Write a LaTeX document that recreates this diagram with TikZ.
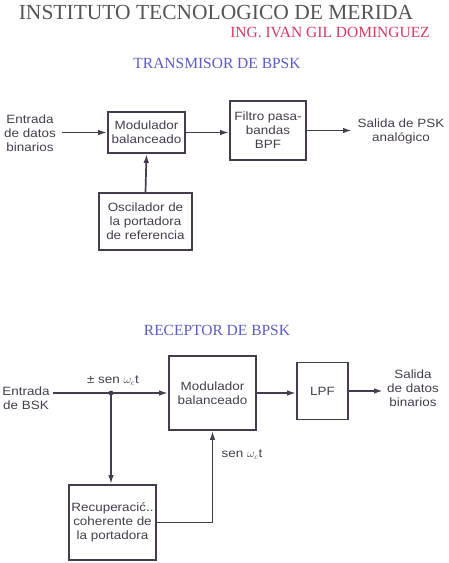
\documentclass[tikz,border=0pt]{standalone}
\usepackage{fontspec}
\setmainfont{Liberation Serif}
\newfontfamily\diagfont[FakeStretch=1.12]{Liberation Sans}
\usetikzlibrary{arrows.meta}
\definecolor{titlegray}{HTML}{555555}
\definecolor{titlered}{HTML}{D63A62}
\definecolor{titleblue}{HTML}{5C5CC8}
\definecolor{ink}{HTML}{453D4D}
\tikzset{
  blk/.style={draw=ink, line width=1.7pt, inner sep=0pt, align=center, font=\diagfont\fontsize{12}{14}\selectfont, text=ink},
  lbl/.style={align=center, inner sep=0pt, font=\diagfont\fontsize{12}{14}\selectfont, text=ink},
  conn/.style={draw=ink, line width=1.7pt, -{Latex[length=9pt,width=5.5pt]}},
}
\begin{document}
\begin{tikzpicture}[x=1pt,y=-1pt]
\useasboundingbox (0,0) rectangle (448,563);
% titles
\node[font=\fontsize{21.5}{23}\selectfont, text=titlegray, inner sep=0pt] (t1) at (216,12) {INSTITUTO TECNOLOGICO DE MERIDA};
\node[font=\fontsize{15.5}{17}\selectfont, text=titlered, inner sep=0pt] (t2) at (330,32) {ING. IVAN GIL DOMINGUEZ};
\node[font=\fontsize{15.5}{17}\selectfont, text=titleblue, inner sep=0pt] (t3) at (217,63) {TRANSMISOR DE BPSK};
\node[font=\fontsize{15.5}{17}\selectfont, text=titleblue, inner sep=0pt] (t4) at (217,330) {RECEPTOR DE BPSK};
% transmitter
\node[blk, minimum width=77pt, minimum height=41pt] (mod1) at (146.5,132.5) {Modulador\\balanceado};
\node[blk, minimum width=76pt, minimum height=59pt] (filt) at (268,130.5) {Filtro pasa-\\bandas\\BPF};
\node[blk, minimum width=93pt, minimum height=57pt] (osc) at (145.5,221.5) {Oscilador de\\la portadora\\de referencia};
\node[lbl] (in1) at (30,133) {Entrada\\de datos\\binarios};
\node[lbl] (out1) at (401,131) {Salida de PSK\\analógico};
\coordinate (a1) at (62,132.5);
\coordinate (a2) at (352,130.5);
\draw[conn] (a1) -- (mod1.west);
\draw[conn] (mod1.east) -- (mod1.east -| filt.west);
\draw[conn] (filt.east) -- (a2);
\draw[conn] (osc.north) -- (mod1.south);
% receiver
\node[blk, minimum width=87pt, minimum height=74pt] (mod2) at (212.5,393) {Modulador\\balanceado};
\node[blk, minimum width=51pt, minimum height=57pt] (lpf) at (322.5,391) {LPF};
\node[blk, minimum width=87pt, minimum height=75pt] (rec) at (112.5,522.5) {Recuperacić..\\coherente de\\la portadora};
\node[lbl] (in2) at (26,398) {Entrada\\de BSK};
\node[lbl] (out2) at (413,388) {Salida\\de datos\\binarios};
\coordinate (b1) at (53,393);
\coordinate (j) at (111,393);
\coordinate (b2) at (383,391);
\fill[ink] (j) circle (2.4pt);
\draw[conn] (b1) -- (mod2.west);
\draw[conn] (j) -- (j |- rec.north);
\draw[conn] (rec.east) -| (mod2.south);
\draw[conn] (mod2.east) -- (mod2.east -| lpf.west);
\draw[conn] (lpf.east) -- (b2);
\node[lbl] (s1) at (113,381) {± sen $\omega_c$t};
\node[lbl] (s2) at (242,455) {sen $\omega_c$t};
\end{tikzpicture}
\end{document}
